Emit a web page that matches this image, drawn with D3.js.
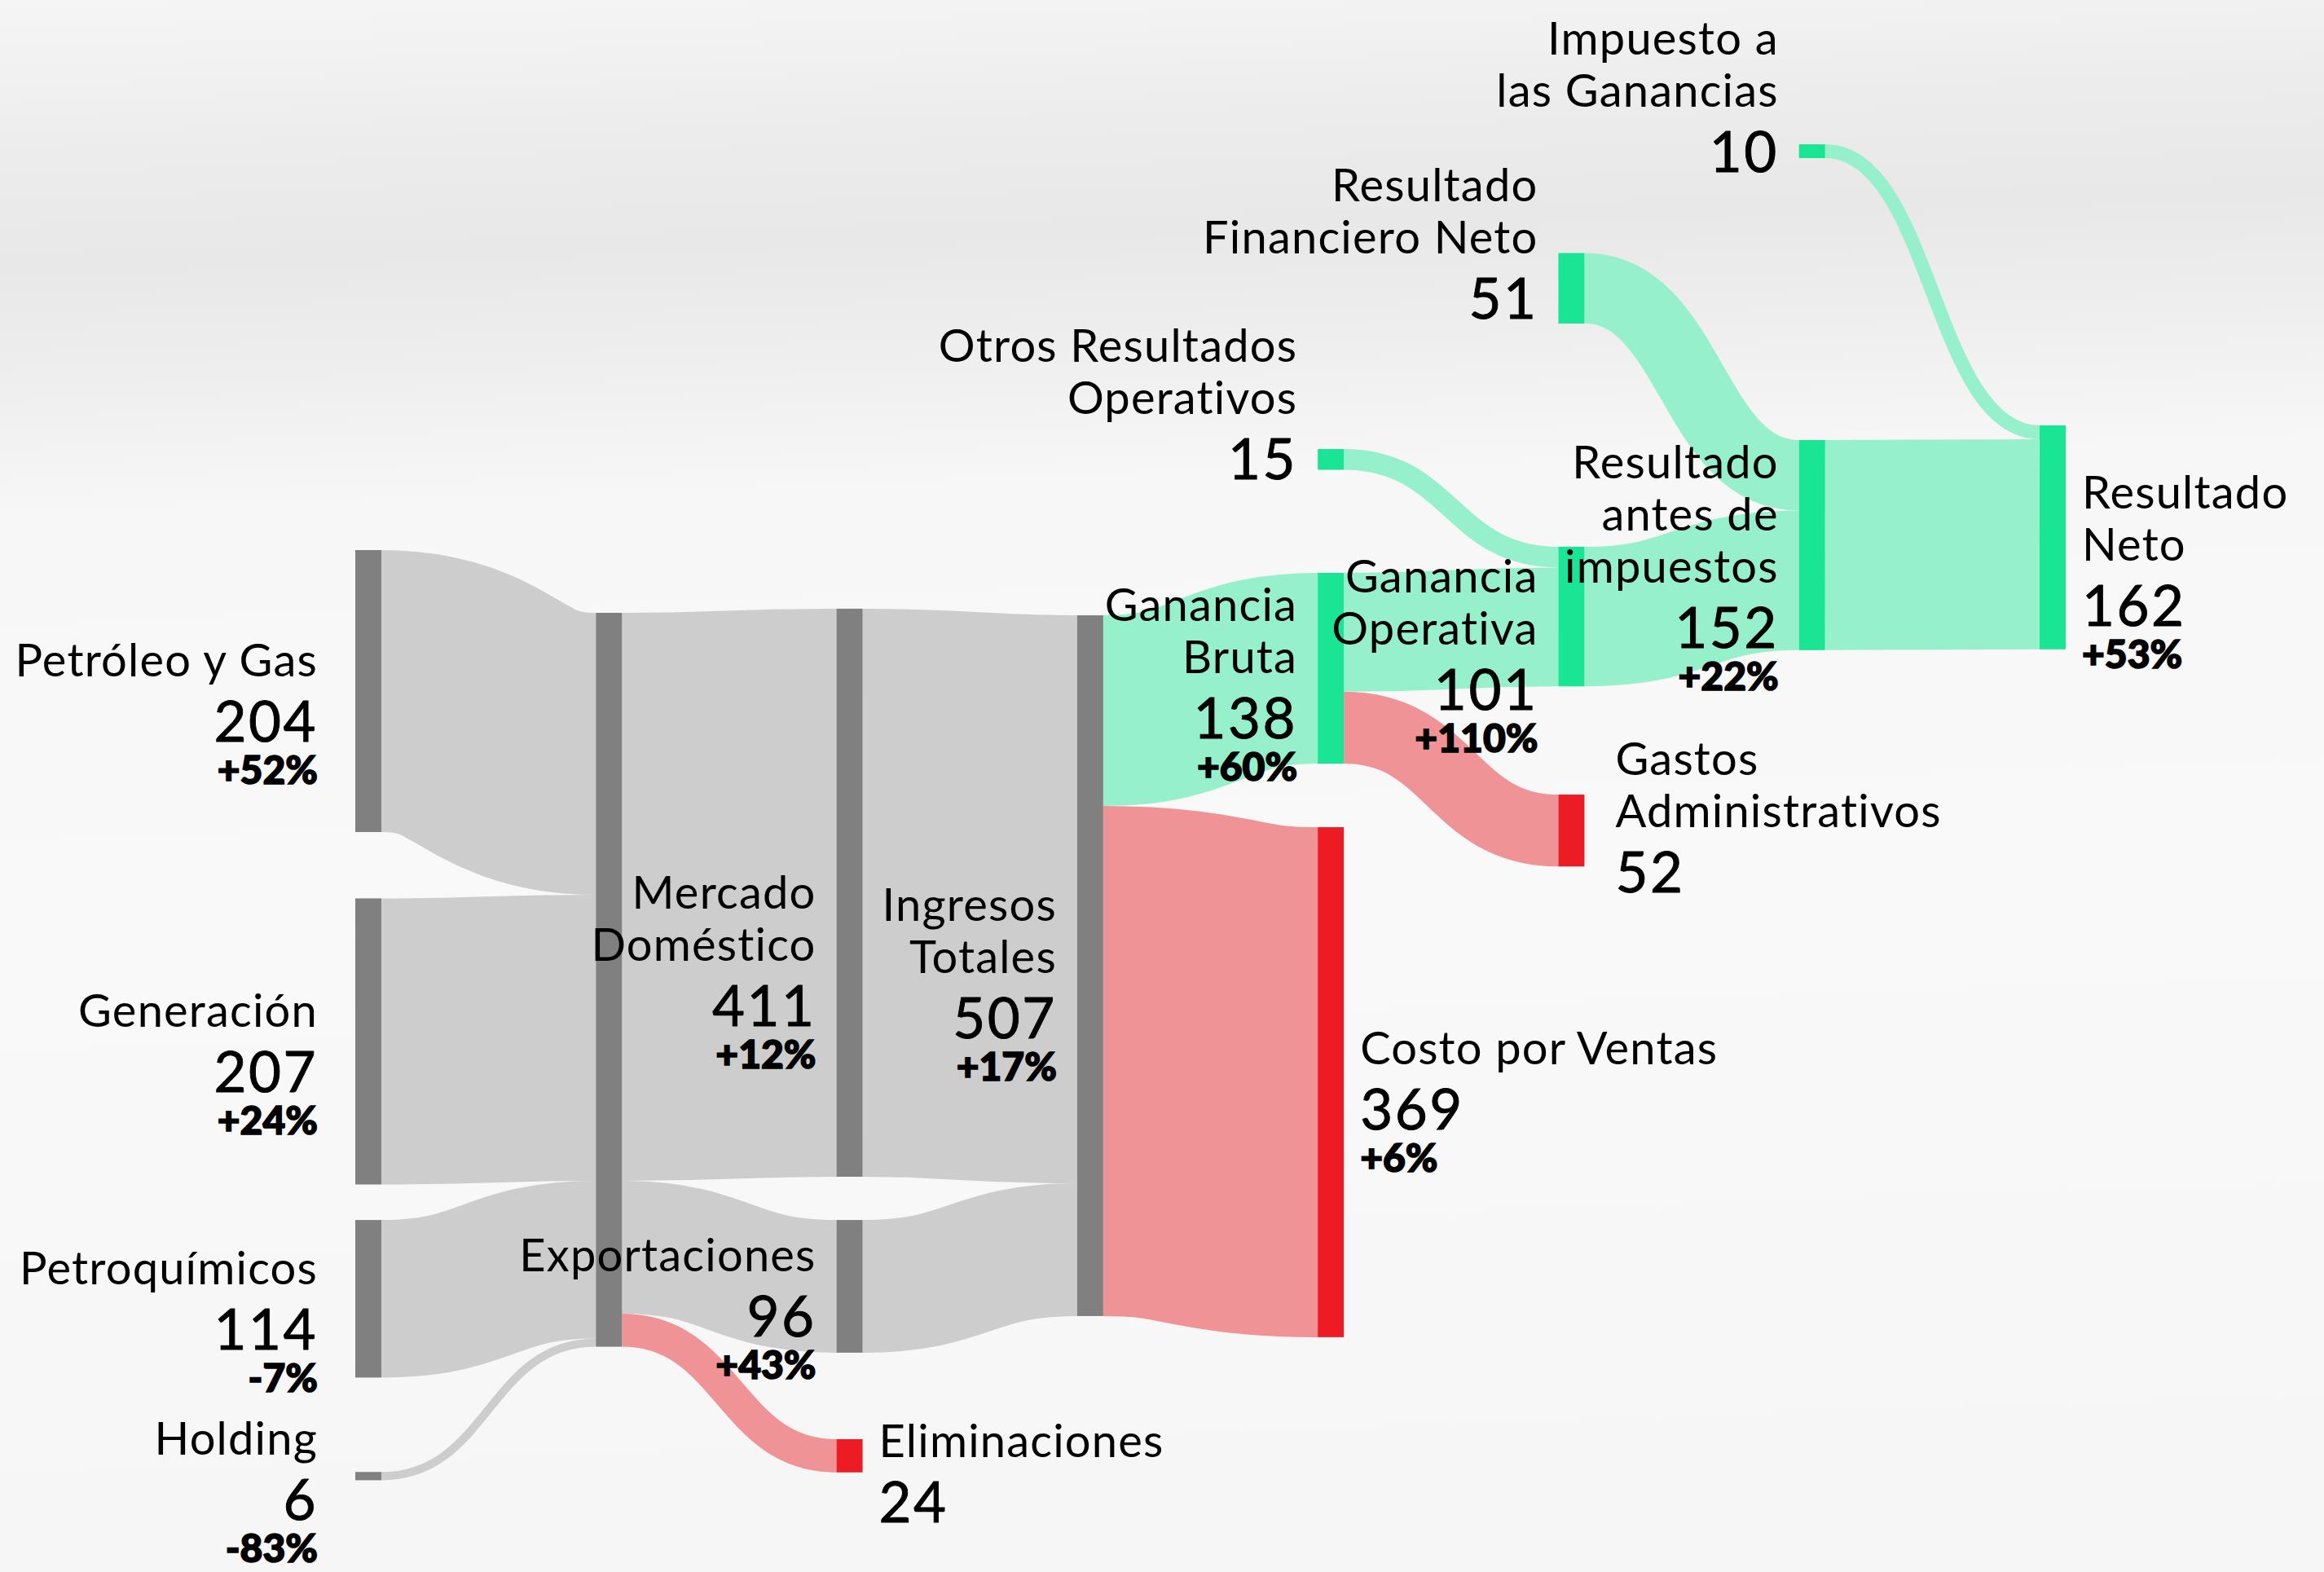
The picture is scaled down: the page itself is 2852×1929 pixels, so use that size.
<!DOCTYPE html>
<html>
<head>
<meta charset="utf-8">
<title>Resultados - Sankey</title>
<script src="https://d3js.org/d3.v7.min.js"></script>
<style>
  html, body { margin: 0; padding: 0; background: #f7f7f7; }
  svg { display: block; font-family: Lato, "Open Sans", sans-serif; }
</style>
</head>
<body>
<svg id="chart" width="2852" height="1929"></svg>
<script>
// ---- data ----
const nodeNames = ["Petróleo y Gas", "Generación", "Petroquímicos", "Holding", "Ventas",
  "Mercado Doméstico", "Exportaciones", "Eliminaciones", "Ingresos Totales",
  "Ganancia Bruta", "Costo por Ventas", "Otros Resultados Operativos",
  "Ganancia Operativa", "Gastos Administrativos", "Resultado Financiero Neto",
  "Resultado antes de impuestos", "Impuesto a las Ganancias", "Resultado Neto"];
const nodeLabels = ["Petróleo y Gas", "Generación", "Petroquímicos", "Holding", "",
  "Mercado\nDoméstico", "Exportaciones", "Eliminaciones", "Ingresos\nTotales",
  "Ganancia\nBruta", "Costo por Ventas", "Otros Resultados\nOperativos",
  "Ganancia\nOperativa", "Gastos\nAdministrativos", "Resultado\nFinanciero Neto",
  "Resultado\nantes de\nimpuestos", "Impuesto a\nlas Ganancias", "Resultado\nNeto"];
const nodeKinds = ["neutral", "neutral", "neutral", "neutral", "neutral",
  "neutral", "neutral", "cost", "neutral",
  "profit", "cost", "profit",
  "profit", "cost", "profit",
  "profit", "profit", "profit"];
const nodeChanges = ["+52%", "+24%", "-7%", "-83%", "",
  "+12%", "+43%", "", "+17%",
  "+60%", "+6%", "",
  "+110%", "", "",
  "+22%", "", "+53%"];

const linkSource = ["Petróleo y Gas", "Generación", "Petroquímicos", "Holding",
  "Ventas", "Ventas", "Ventas",
  "Mercado Doméstico", "Exportaciones",
  "Ingresos Totales", "Ingresos Totales",
  "Otros Resultados Operativos", "Ganancia Bruta", "Ganancia Bruta",
  "Resultado Financiero Neto", "Ganancia Operativa",
  "Impuesto a las Ganancias", "Resultado antes de impuestos"];
const linkTarget = ["Ventas", "Ventas", "Ventas", "Ventas",
  "Mercado Doméstico", "Exportaciones", "Eliminaciones",
  "Ingresos Totales", "Ingresos Totales",
  "Ganancia Bruta", "Costo por Ventas",
  "Ganancia Operativa", "Ganancia Operativa", "Gastos Administrativos",
  "Resultado antes de impuestos", "Resultado antes de impuestos",
  "Resultado Neto", "Resultado Neto"];
const linkValue = [204, 207, 114, 6, 411, 96, 24, 411, 96, 138, 369, 15, 86, 52, 51, 101, 10, 152];

// ---- layout (column, top of node in flow units, label tweaks) ----
const layout = {
  "Petróleo y Gas":               { col: 0, top: 398,   side: "left",  pad: 46 },
  "Generación":                   { col: 0, top: 650,   side: "left",  pad: 46 },
  "Petroquímicos":                { col: 0, top: 882.7, side: "left",  pad: 46 },
  "Holding":                      { col: 0, top: 1065,  side: "left",  pad: 46, shift: -8 },
  "Ventas":                       { col: 1, top: 443.4 },
  "Mercado Doméstico":            { col: 2, top: 440.4, side: "left",  shift: 70 },
  "Exportaciones":                { col: 2, top: 882.7, side: "left" },
  "Eliminaciones":                { col: 2, top: 1041.3, side: "right", shift: 20 },
  "Ingresos Totales":             { col: 3, top: 445.2, side: "left",  shift: -5 },
  "Ganancia Bruta":               { col: 4, top: 414.5, side: "left",  shift: -8 },
  "Costo por Ventas":             { col: 4, top: 598.5, side: "right", shift: -4 },
  "Otros Resultados Operativos":  { col: 4, top: 324.9, side: "left",  shift: -70 },
  "Ganancia Operativa":           { col: 5, top: 395.6, side: "left",  shift: 20 },
  "Gastos Administrativos":       { col: 5, top: 574.9, side: "right", pad: 38, shift: -18 },
  "Resultado Financiero Neto":    { col: 5, top: 183.1, side: "left",  shift: -57 },
  "Resultado antes de impuestos": { col: 6, top: 318.4, side: "left" },
  "Impuesto a las Ganancias":     { col: 6, top: 104.4, side: "left",  shift: -69 },
  "Resultado Neto":               { col: 7, top: 307.8, side: "right", shift: 15 }
};

const colors = {
  neutral: { node: "#808080", link: "#cdcdcd" },
  profit:  { node: "#1ae594", link: "#96f0cc" },
  cost:    { node: "#ed1c24", link: "#f09397" }
};

const W = 2852, H = 1929, nodeW = 32;
const x = d3.scaleLinear().domain([0, 7]).range([436, 2503]);
const y = d3.scaleLinear().domain([0, 1000]).range([0, 1696]);

// ---- build graph ----
const nodes = nodeNames.map((name, i) => ({
  name, label: nodeLabels[i], kind: nodeKinds[i], change: nodeChanges[i],
  sourceLinks: [], targetLinks: []
}));
const byName = new Map(nodes.map(n => [n.name, n]));
const links = linkValue.map((v, i) => {
  const l = { source: byName.get(linkSource[i]), target: byName.get(linkTarget[i]), value: v };
  l.source.sourceLinks.push(l);
  l.target.targetLinks.push(l);
  return l;
});

nodes.forEach(n => {
  const L = layout[n.name];
  n.value = Math.max(d3.sum(n.sourceLinks, l => l.value), d3.sum(n.targetLinks, l => l.value));
  n.x0 = x(L.col); n.x1 = n.x0 + nodeW;
  n.y0 = y(L.top); n.y1 = y(L.top + n.value);
});
nodes.forEach(n => {
  n.sourceLinks.sort((a, b) => a.target.y0 - b.target.y0);
  n.targetLinks.sort((a, b) => a.source.y0 - b.source.y0);
  let sy = n.y0;
  n.sourceLinks.forEach(l => { l.width = y(l.value) - y(0); l.y0 = sy + l.width / 2; sy += l.width; });
  let ty = n.y0;
  n.targetLinks.forEach(l => { l.y1 = ty + l.width / 2; ty += l.width; });
});

// horizontal link drawn as a thick stroke (like d3-sankey)
const linkPath = d3.linkHorizontal()
  .source(d => [d.source.x1, d.y0])
  .target(d => [d.target.x0, d.y1]);

// ---- draw ----
const svg = d3.select("#chart");
const defs = svg.append("defs");
const bg = defs.append("linearGradient").attr("id", "bg")
  .attr("x1", 0).attr("y1", 0).attr("x2", 0.05).attr("y2", 1);
[[0, "#f5f5f5"], [0.05, "#f1f1f1"], [0.1, "#ececec"], [0.17, "#e8e8e8"], [0.24, "#eeeeee"],
 [0.33, "#f7f7f7"], [0.6, "#f9f9f9"], [1, "#f6f6f6"]]
  .forEach(s => bg.append("stop").attr("offset", s[0]).attr("stop-color", s[1]));
svg.append("rect").attr("width", W).attr("height", H).attr("fill", "url(#bg)");

svg.append("g").attr("fill", "none").selectAll("path").data(links).join("path")
  .attr("d", linkPath)
  .attr("stroke", d => colors[d.target.kind].link)
  .attr("stroke-width", d => d.width);

svg.append("g").selectAll("rect").data(nodes).join("rect")
  .attr("x", d => d.x0).attr("y", d => d.y0)
  .attr("width", d => d.x1 - d.x0).attr("height", d => d.y1 - d.y0)
  .attr("fill", d => colors[d.kind].node);

// labels: name lines, value, change
svg.append("g").selectAll("text").data(nodes.filter(n => n.label)).join("text")
  .attr("fill", "#000")
  .attr("text-anchor", d => layout[d.name].side === "left" ? "end" : "start")
  .each(function (d) {
    const L = layout[d.name];
    const lines = d.label.split("\n");
    const pad = L.pad || (L.side === "left" ? 25 : 20);
    const tx = L.side === "left" ? d.x0 - pad : d.x1 + pad;
    const c = (d.y0 + d.y1) / 2;
    const valueBase = c + 62 + 32 * (lines.length - 1) + (L.shift || 0);
    const t = d3.select(this);
    lines.forEach((s, i) => {
      t.append("tspan").attr("x", tx)
        .attr("y", valueBase - 80 - 64 * (lines.length - 1 - i))
        .attr("font-size", 56).attr("letter-spacing", 1.2).text(s);
    });
    t.append("tspan").attr("x", tx).attr("y", valueBase)
      .attr("font-size", 69).attr("letter-spacing", 2.5)
      .attr("stroke", "#000").attr("stroke-width", 0.9)
      .text(d3.format("d")(d.value));
    if (d.change) {
      t.append("tspan").attr("x", tx).attr("y", valueBase + 52)
        .attr("font-size", 48).attr("font-weight", 900)
        .attr("stroke", "#000").attr("stroke-width", 1.6)
        .text(d.change);
    }
  });
</script>
</body>
</html>
